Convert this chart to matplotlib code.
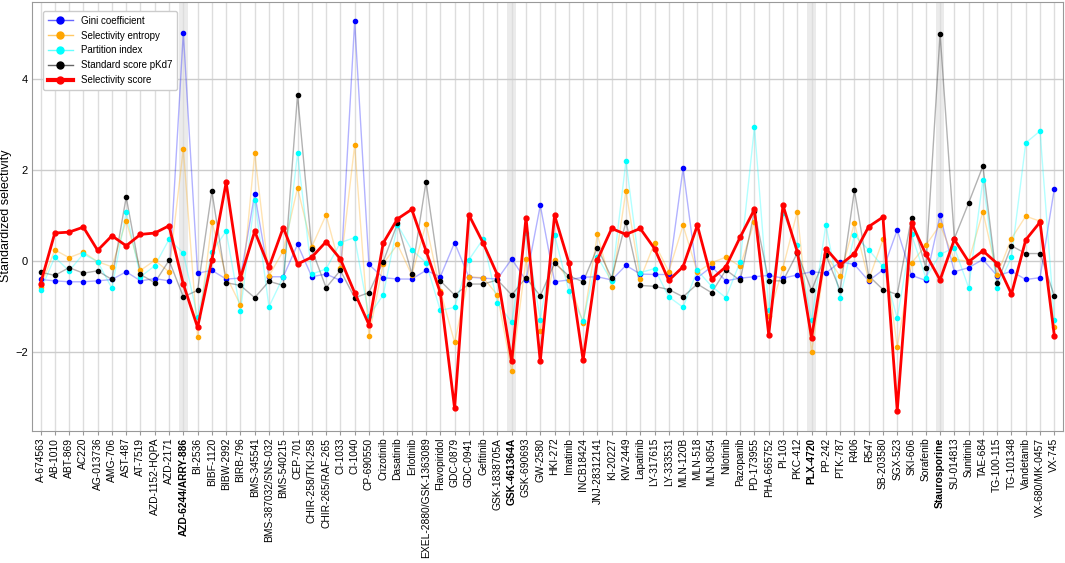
import matplotlib
matplotlib.use("Agg")
import matplotlib.pyplot as plt
import numpy as np

plt.rcParams['font.family'] = ['Liberation Sans', 'DejaVu Sans']

# kinase inhibitors (x categories)
compounds = [
    "A-674563", "AB-1010", "ABT-869", "AC220", "AG-013736", "AMG-706", "AST-487",
    "AT-7519", "AZD-1152-HQPA", "AZD-2171", "AZD-6244/ARRY-886", "BI-2536",
    "BIBF-1120", "BIBW-2992", "BIRB-796", "BMS-345541", "BMS-387032/SNS-032",
    "BMS-540215", "CEP-701", "CHIR-258/TKI-258", "CHIR-265/RAF-265", "CI-1033",
    "CI-1040", "CP-690550", "Crizotinib", "Dasatinib", "Erlotinib",
    "EXEL-2880/GSK-1363089", "Flavopiridol", "GDC-0879", "GDC-0941", "Gefitinib",
    "GSK-1838705A", "GSK-461364A", "GSK-690693", "GW-2580", "HKI-272", "Imatinib",
    "INCB18424", "JNJ-28312141", "KI-20227", "KW-2449", "Lapatinib", "LY-317615",
    "LY-333531", "MLN-120B", "MLN-518", "MLN-8054", "Nilotinib", "Pazopanib",
    "PD-173955", "PHA-665752", "PI-103", "PKC-412", "PLX-4720", "PP-242", "PTK-787",
    "R406", "R547", "SB-203580", "SGX-523", "SKI-606", "Sorafenib", "Staurosporine",
    "SU-014813", "Sunitinib", "TAE-684", "TG-100-115", "TG-101348", "Vandetanib",
    "VX-680/MK-0457", "VX-745",
]

highlighted = ["AZD-6244/ARRY-886", "GSK-461364A", "PLX-4720", "Staurosporine"]

gini = [
    -0.40, -0.43, -0.45, -0.45, -0.43, -0.40, -0.23, -0.43, -0.38, -0.43,
    5.02, -0.26, -0.20, -0.39, -0.37, 1.48, -0.34, -0.34, 0.37, -0.34,
    -0.28, -0.42, 5.27, -0.07, -0.36, -0.39, -0.39, -0.20, -0.34, 0.41,
    -0.35, -0.37, -0.39, 0.05, -0.42, 1.23, -0.45, -0.41, -0.35, -0.34,
    -0.41, -0.09, -0.28, -0.29, -0.29, 2.04, -0.36, -0.12, -0.43, -0.37,
    -0.34, -0.31, -0.37, -0.30, -0.23, -0.26, -0.01, -0.07, -0.43, -0.19,
    0.69, -0.31, -0.42, 1.01, -0.23, -0.14, 0.04, -0.32, -0.22, -0.40,
    -0.36, 1.59,
]

entropy = [
    -0.56, 0.25, 0.08, 0.20, -0.01, -0.12, 0.89, -0.20, 0.02, -0.23,
    2.47, -1.66, 0.87, -0.32, -0.96, 2.38, -0.32, 0.23, 1.61, 0.32,
    1.02, -0.15, 2.55, -1.64, -0.05, 0.37, -0.30, 0.82, -0.65, -1.78,
    -0.34, -0.36, -0.74, -2.42, 0.04, -1.54, 0.02, -0.41, -1.35, 0.59,
    -0.57, 1.55, -0.39, 0.40, -0.23, 0.79, -0.24, -0.03, 0.09, -0.11,
    0.87, -1.21, -0.14, 1.09, -2.00, 0.15, -0.33, 0.84, -0.41, 0.48,
    -1.89, -0.04, 0.35, 0.80, 0.04, 0.00, 1.09, -0.30, 0.50, 0.99,
    0.88, -1.44,
]

partition = [
    -0.64, 0.09, -0.21, 0.16, -0.01, -0.59, 1.08, -0.34, -0.10, 0.48,
    0.18, -1.23, 0.21, 0.66, -1.10, 1.35, -1.00, -0.34, 2.37, -0.28,
    -0.17, 0.41, 0.52, -1.20, -0.74, 0.80, 0.25, -0.03, -1.08, -1.01,
    0.03, 0.49, -0.92, -1.34, 0.61, -1.28, 0.58, -0.65, -1.31, 0.10,
    -0.44, 2.20, -0.25, -0.16, -0.78, -1.01, -0.20, -0.55, -0.80, -0.01,
    2.95, -1.06, 1.05, 0.36, -1.30, 0.80, -0.81, 0.57, 0.25, -0.11,
    -1.25, 0.59, -0.36, 0.15, 0.30, -0.58, 1.79, -0.59, 0.09, 2.60,
    2.86, -1.28,
]

pkd7 = [
    -0.24, -0.31, -0.14, -0.26, -0.21, -0.40, 1.41, -0.29, -0.47, 0.02,
    -0.78, -0.64, 1.54, -0.47, -0.53, -0.80, -0.44, -0.53, 3.66, 0.26,
    -0.58, -0.20, -0.80, -0.69, -0.01, 0.83, -0.27, 1.75, -0.43, -0.74,
    -0.50, -0.50, -0.41, -0.74, -0.36, -0.76, -0.04, -0.32, -0.45, 0.30,
    -0.37, 0.87, -0.53, -0.55, -0.62, -0.78, -0.50, -0.69, -0.19, -0.42,
    1.10, -0.43, -0.43, 0.18, -0.64, 0.14, -0.64, 1.56, -0.32, -0.62,
    -0.73, 0.96, -0.14, 5.00, 0.50, 1.28, 2.09, -0.48, 0.34, 0.17,
    0.17, -0.76,
]

score = [
    -0.49, 0.62, 0.64, 0.75, 0.24, 0.56, 0.34, 0.59, 0.62, 0.78,
    -0.50, -1.45, 0.03, 1.73, -0.37, 0.66, -0.13, 0.74, -0.06, 0.09,
    0.43, 0.05, -0.69, -1.39, 0.40, 0.93, 1.14, 0.23, -0.69, -3.23,
    1.02, 0.40, -0.30, -2.20, 0.96, -2.20, 1.01, -0.03, -2.17, 0.03,
    0.72, 0.59, 0.72, 0.28, -0.42, -0.12, 0.79, -0.39, -0.12, 0.53,
    1.14, -1.61, 1.23, 0.21, -1.68, 0.28, -0.08, 0.17, 0.76, 0.97,
    -3.28, 0.84, 0.16, -0.41, 0.48, -0.01, 0.23, -0.05, -0.72, 0.47,
    0.86, -1.63,
]

x = np.arange(len(compounds))

fig = plt.figure(figsize=(10.65, 5.63), dpi=100)
ax = fig.add_axes([0.030, 0.235, 0.968, 0.762])

# grey bands behind the highlighted compounds
for name in highlighted:
    i = compounds.index(name)
    ax.axvspan(i - 0.3, i + 0.3, color='#ebebeb', zorder=0, lw=0)

series = [
    ("Gini coefficient", gini, 'blue'),
    ("Selectivity entropy", entropy, 'orange'),
    ("Partition index", partition, 'cyan'),
    ("Standard score pKd7", pkd7, 'black'),
]
for label, vals, col in series:
    ax.plot(x, vals, color=col, lw=1, alpha=0.3, zorder=2)
    ax.plot(x, vals, ls='none', marker='o', ms=3, color=col, zorder=3)
    # legend proxy with opaque marker and faint line
    ax.plot([], [], color=matplotlib.colors.to_rgba(col, 0.6), lw=1, marker='o',
            ms=5, mfc=col, mec=col, label=label)

ax.plot(x, score, color='red', lw=2, marker='o', ms=3.5, zorder=4)
ax.plot([], [], color='red', lw=3, marker='o', ms=5, label="Selectivity score")

ax.set_xlim(-0.6, len(compounds) - 0.4)
ax.set_ylim(-3.72, 5.70)
ax.set_xticks(x)
ax.set_xticklabels(compounds, rotation=90, fontsize=7.4)
for lbl in ax.get_xticklabels():
    if lbl.get_text() in highlighted:
        lbl.set_fontweight('bold')
ax.set_yticks([-2, 0, 2, 4])
ax.tick_params(axis='y', labelsize=8, length=0, pad=3)
ax.tick_params(axis='x', length=3, color='#999999', pad=2)
ax.set_ylabel("Standardized selectivity", fontsize=9, labelpad=2)

ax.grid(True, axis='x', color='#dddddd', lw=1, zorder=1)
ax.grid(True, axis='y', color='#cccccc', lw=1, zorder=1)
ax.set_axisbelow(True)
for sp in ax.spines.values():
    sp.set_color('#999999')

ax.legend(loc='upper left', fontsize=7, frameon=True, edgecolor='#cccccc',
          framealpha=1, borderpad=0.5, labelspacing=0.5, handlelength=2.6,
          handletextpad=0.8, bbox_to_anchor=(0.006, 0.99))

fig.savefig("out.png", dpi=100)
